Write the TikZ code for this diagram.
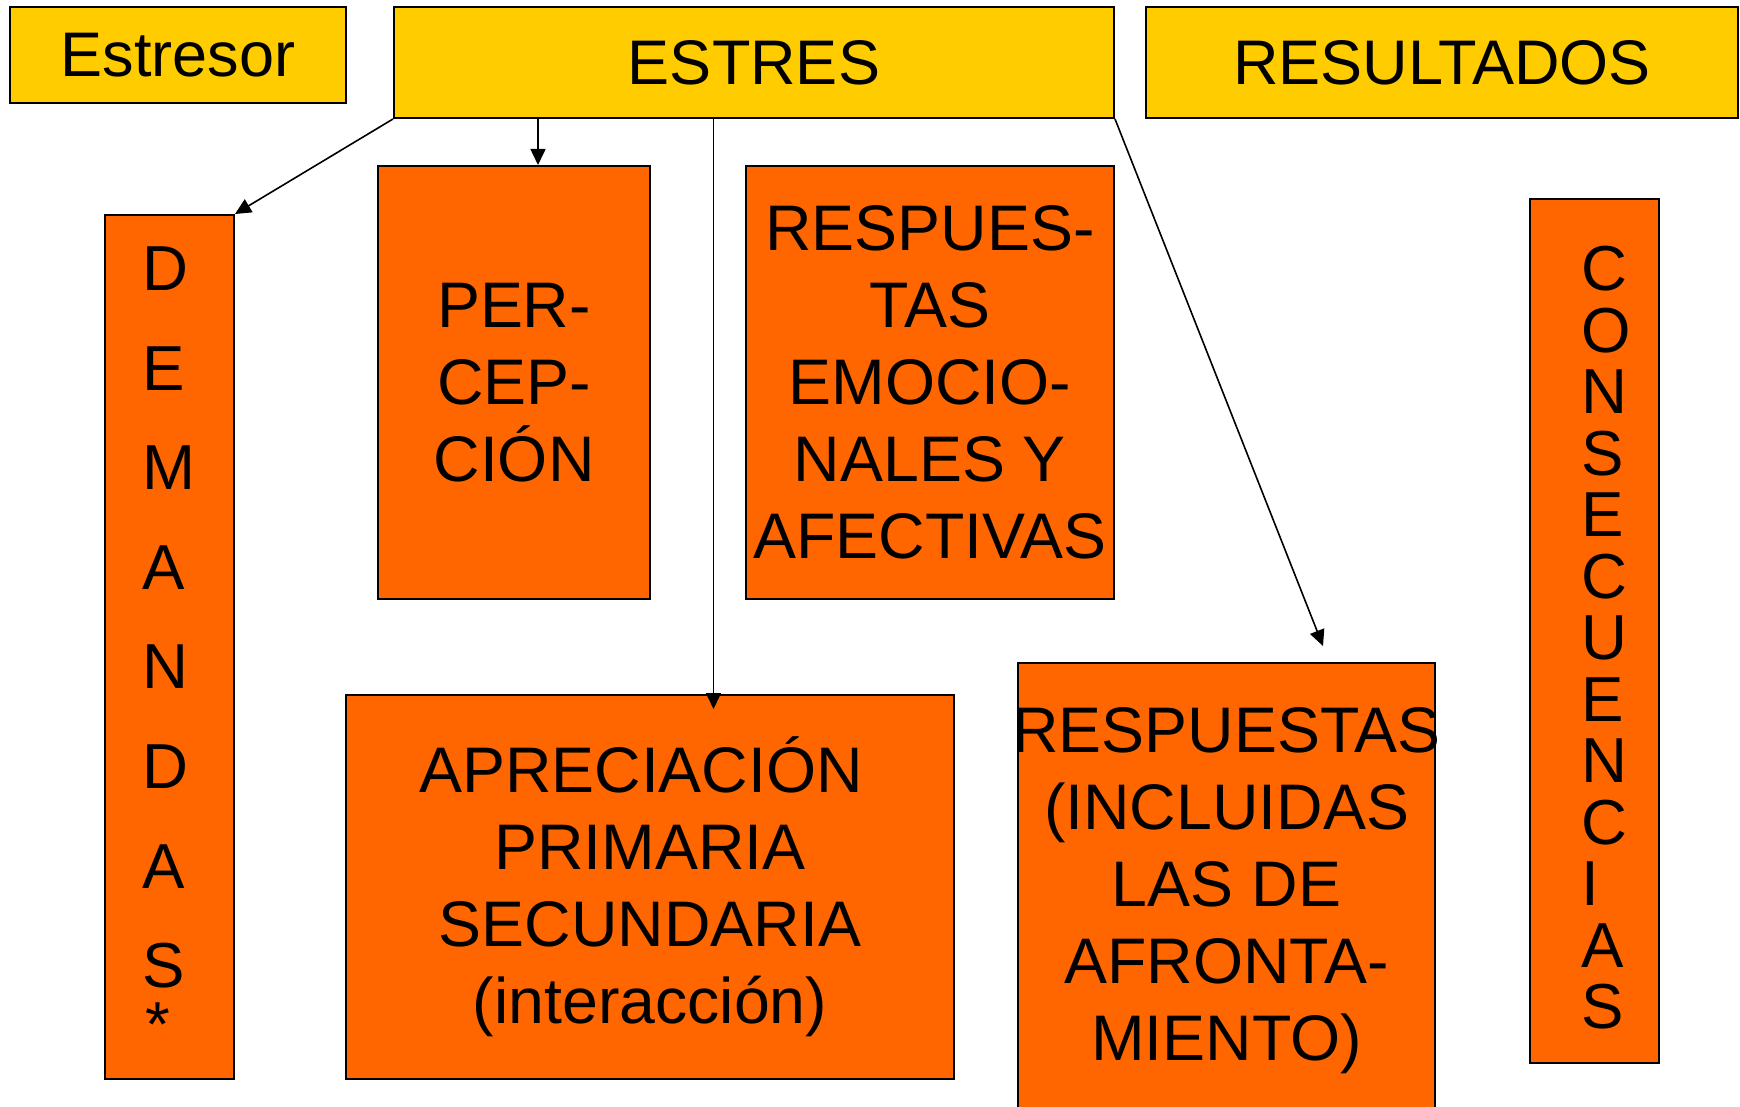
\documentclass[tikz,border=0pt]{standalone}
\usepackage{fontspec}
\setmainfont{Liberation Sans}
\usetikzlibrary{arrows.meta}
\definecolor{amarillo}{HTML}{FFCC00}
\definecolor{naranja}{HTML}{FF6600}
\tikzset{
  caja/.style={draw=black,line width=1pt,inner sep=0pt,align=center,font=\fontsize{31.5pt}{38.5pt}\selectfont},
  titulo/.style={caja,fill=amarillo},
  bloque/.style={caja,fill=naranja,font=\fontsize{32.2pt}{38.5pt}\selectfont},
  texto/.style={inner sep=0pt,align=center,font=\fontsize{32.2pt}{38.5pt}\selectfont},
  letra/.style={anchor=base west,inner sep=0pt,font=\fontsize{31.8pt}{38.5pt}\selectfont},
  flecha/.style={line width=0.8pt,-{Triangle[length=8pt,width=7.5pt]}}
}
\begin{document}
\begin{tikzpicture}[x=0.5pt,y=-0.5pt]
			\useasboundingbox (0,0) rectangle (1740,1107);
			\node[titulo,minimum width=168pt,minimum height=48pt] (estresor) at (178,55) {Estresor};
			\node[titulo,minimum width=360pt,minimum height=55.5pt] (estres) at (754,62.5) {ESTRES};
			\node[titulo,minimum width=296pt,minimum height=55.5pt] (result) at (1442,62.5) {RESULTADOS};
			\node[bloque,minimum width=64.5pt,minimum height=432pt] (demandas) at (169.5,647) {};
			\node[bloque,minimum width=136pt,minimum height=216.5pt] (percep) at (514,382.5) {PER-\\CEP-\\CIÓN};
			\node[bloque,minimum width=184pt,minimum height=216.5pt] (emoc) at (930,382.5) {RESPUES-\\TAS\\EMOCIO-\\NALES Y\\AFECTIVAS};
			\node[bloque,minimum width=304pt,minimum height=192pt] (aprec) at (650,887) {APRECIACIÓN\hspace*{0.278em}\\PRIMARIA\\SECUNDARIA\\(interacción)};
			\node[bloque,minimum width=208.5pt,minimum height=228pt] (afront) at (1226.5,891) {};
			\node[texto] (afront-txt) at (afront) {RESPUESTAS\\(INCLUIDAS\\LAS DE\\AFRONTA-\\MIENTO)};
			\node[bloque,minimum width=64.5pt,minimum height=432pt] (conse) at (1594.5,631) {};
			\foreach \l [count=\i] in {D,E,M,A,N,D,A,S}
			\node[letra] (dem-\i) at (142,{290.7+99.56*(\i-1)}) {\l};
			\node[letra] (dem-ast) at (145,1046) {*};
			\foreach \l [count=\i] in {C,O,N,S,E,C,U,E,N,C,I,A,S}
			\node[letra] (con-\i) at (1581,{290.7+61.5*(\i-1)}) {\l};
			\coordinate (punta) at (1323,646);
			\draw[flecha] (estres.south west) -- (demandas.north east);
			\draw[flecha] ([xshift=12pt]percep.north |- estres.south) -- ([xshift=12pt]percep.north);
			\draw[flecha] ([xshift=31.75pt]aprec.north |- estres.south) -- ([xshift=31.75pt,yshift=-7.5pt]aprec.north);
			\draw[flecha] (estres.south east) -- (punta);
		\end{tikzpicture}
\end{document}
